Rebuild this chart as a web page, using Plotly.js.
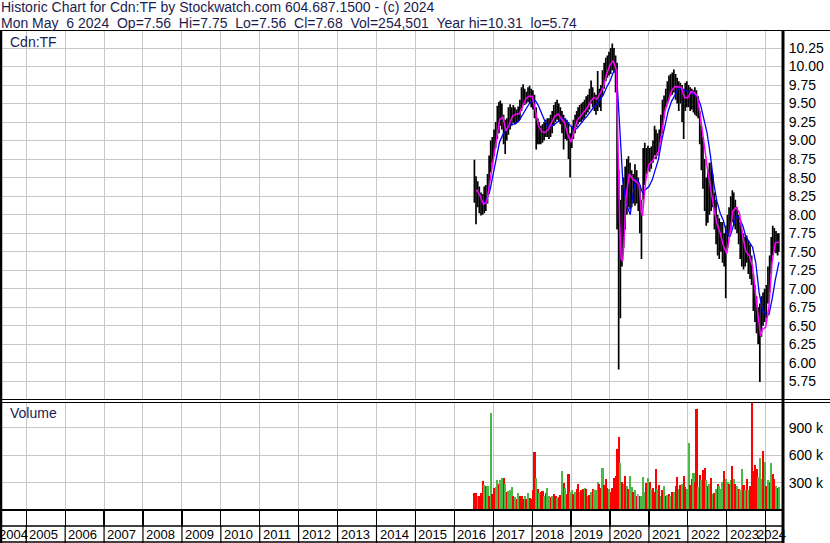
<!DOCTYPE html>
<html><head><meta charset="utf-8">
<script src="https://cdn.plot.ly/plotly-3.0.1.min.js"></script>
<style>html,body{margin:0;padding:0;background:#fff}#chart{width:830px;height:543px}</style>
</head><body><div id="chart"></div>
<script>
// ---------- header texts ----------
const headerLine1 = 'Historic Chart for Cdn:TF by Stockwatch.com 604.687.1500 - (c) 2024';
const headerLine2 = 'Mon May\u00a0\u00a06 2024\u00a0\u00a0Op=7.56\u00a0\u00a0Hi=7.75\u00a0\u00a0Lo=7.56\u00a0\u00a0Cl=7.68\u00a0\u00a0Vol=254,501\u00a0\u00a0Year hi=10.31\u00a0\u00a0lo=5.74';
const priceLabel = 'Cdn:TF';
const volumeLabel = 'Volume';

// ---------- tick labels ----------
const yearLabels = ['2004','2005','2006','2007','2008','2009','2010','2011','2012','2013','2014','2015','2016','2017','2018','2019','2020','2021','2022','2023','2024'];
const volTickVals = [300, 600, 900];
const volTickText = ['300 k', '600 k', '900 k'];

// ---------- half-month price bars ----------
const dates = [
"2016-07-08","2016-07-23","2016-08-08","2016-08-23","2016-09-08","2016-09-23","2016-10-08","2016-10-23","2016-11-08","2016-11-23","2016-12-08","2016-12-23",
"2017-01-08","2017-01-23","2017-02-08","2017-02-23","2017-03-08","2017-03-23","2017-04-08","2017-04-23","2017-05-08","2017-05-23","2017-06-08","2017-06-23","2017-07-08","2017-07-23","2017-08-08","2017-08-23","2017-09-08","2017-09-23","2017-10-08","2017-10-23","2017-11-08","2017-11-23","2017-12-08","2017-12-23",
"2018-01-08","2018-01-23","2018-02-08","2018-02-23","2018-03-08","2018-03-23","2018-04-08","2018-04-23","2018-05-08","2018-05-23","2018-06-08","2018-06-23","2018-07-08","2018-07-23","2018-08-08","2018-08-23","2018-09-08","2018-09-23","2018-10-08","2018-10-23","2018-11-08","2018-11-23","2018-12-08","2018-12-23",
"2019-01-08","2019-01-23","2019-02-08","2019-02-23","2019-03-08","2019-03-23","2019-04-08","2019-04-23","2019-05-08","2019-05-23","2019-06-08","2019-06-23","2019-07-08","2019-07-23","2019-08-08","2019-08-23","2019-09-08","2019-09-23","2019-10-08","2019-10-23","2019-11-08","2019-11-23","2019-12-08","2019-12-23",
"2020-01-08","2020-01-23","2020-02-08","2020-02-23","2020-03-08","2020-03-23","2020-04-08","2020-04-23","2020-05-08","2020-05-23","2020-06-08","2020-06-23","2020-07-08","2020-07-23","2020-08-08","2020-08-23","2020-09-08","2020-09-23","2020-10-08","2020-10-23","2020-11-08","2020-11-23","2020-12-08","2020-12-23",
"2021-01-08","2021-01-23","2021-02-08","2021-02-23","2021-03-08","2021-03-23","2021-04-08","2021-04-23","2021-05-08","2021-05-23","2021-06-08","2021-06-23","2021-07-08","2021-07-23","2021-08-08","2021-08-23","2021-09-08","2021-09-23","2021-10-08","2021-10-23","2021-11-08","2021-11-23","2021-12-08","2021-12-23",
"2022-01-08","2022-01-23","2022-02-08","2022-02-23","2022-03-08","2022-03-23","2022-04-08","2022-04-23","2022-05-08","2022-05-23","2022-06-08","2022-06-23","2022-07-08","2022-07-23","2022-08-08","2022-08-23","2022-09-08","2022-09-23","2022-10-08","2022-10-23","2022-11-08","2022-11-23","2022-12-08","2022-12-23",
"2023-01-08","2023-01-23","2023-02-08","2023-02-23","2023-03-08","2023-03-23","2023-04-08","2023-04-23","2023-05-08","2023-05-23","2023-06-08","2023-06-23","2023-07-08","2023-07-23","2023-08-08","2023-08-23","2023-09-08","2023-09-23","2023-10-08","2023-10-23","2023-11-08","2023-11-23","2023-12-08","2023-12-23",
"2024-01-08","2024-01-23","2024-02-08","2024-02-23","2024-03-08","2024-03-23","2024-04-08","2024-04-23","2024-05-04"
];
const high = [
8.74,8.52,8.45,8.38,8.30,8.28,8.38,8.40,8.55,8.80,9.00,9.05,
9.15,9.25,9.47,9.52,9.54,9.50,9.35,9.28,9.30,9.45,9.49,9.45,9.48,9.45,9.42,9.46,9.55,9.72,9.76,9.70,9.66,9.72,9.74,9.70,
9.68,9.62,9.45,9.30,9.25,9.20,9.22,9.25,9.28,9.30,9.30,9.35,9.40,9.48,9.52,9.55,9.50,9.45,9.40,9.35,9.30,9.28,9.25,9.10,
9.20,9.28,9.35,9.40,9.45,9.48,9.50,9.52,9.55,9.60,9.62,9.70,9.81,9.72,9.65,9.62,9.94,9.70,9.75,9.95,10.05,10.12,10.15,10.20,
10.25,10.31,10.25,10.15,10.05,8.60,8.20,8.40,8.50,8.65,8.75,8.79,8.70,8.60,8.55,8.68,8.60,8.50,8.40,8.20,8.90,8.97,8.90,8.93,
8.90,8.92,9.00,9.20,9.15,9.10,9.15,9.35,9.55,9.61,9.70,9.80,9.88,9.90,9.92,9.96,9.90,9.85,9.80,9.78,9.75,9.70,9.78,9.80,
9.75,9.72,9.70,9.68,9.72,9.68,9.60,9.40,9.20,9.05,8.75,8.50,8.61,8.70,8.70,8.55,8.30,8.20,8.00,7.95,7.90,7.90,7.75,7.85,
8.00,8.10,8.25,8.33,8.30,8.20,8.10,8.00,7.90,7.80,7.75,7.70,7.72,7.65,7.60,7.45,7.20,7.05,6.90,6.75,6.80,6.90,6.95,7.00,
7.05,7.30,7.45,7.70,7.85,7.82,7.78,7.75,7.75
];
const low = [
8.16,7.87,8.10,8.02,7.99,8.00,8.02,8.05,8.15,8.28,8.57,8.70,
8.79,8.90,9.02,9.10,9.20,9.15,8.95,8.82,9.00,9.08,9.15,9.20,9.24,9.22,9.24,9.25,9.28,9.40,9.48,9.48,9.50,9.52,9.50,9.45,
9.42,9.30,8.88,8.95,8.95,8.95,8.97,9.00,9.05,9.05,9.02,9.05,9.10,9.20,9.25,9.28,9.25,9.22,9.10,8.88,9.02,9.00,8.75,8.50,
8.90,9.02,9.10,9.18,9.22,9.25,9.25,9.28,9.30,9.35,9.38,9.42,9.50,9.45,9.40,9.35,9.40,9.45,9.40,9.60,9.70,9.80,9.85,9.88,
9.90,9.95,9.92,9.65,7.80,5.91,6.60,7.30,7.55,7.80,8.00,8.10,8.07,8.10,8.15,8.12,8.15,8.05,7.75,7.40,8.20,8.40,8.55,8.60,
8.58,8.62,8.70,8.80,8.75,8.80,8.85,9.00,9.10,9.30,9.45,9.50,9.55,9.60,9.62,9.65,9.55,9.50,9.40,9.50,9.25,9.02,9.40,9.45,
9.45,9.40,9.42,9.38,9.35,9.33,9.30,8.95,8.60,8.35,8.05,7.85,7.89,8.00,8.05,8.10,7.80,7.60,7.45,7.40,7.50,7.35,7.30,6.87,
7.55,7.70,7.80,7.90,7.85,7.80,7.75,7.60,7.40,7.30,7.26,7.30,7.35,7.20,7.13,7.05,6.70,6.55,6.40,6.25,5.74,6.35,6.50,6.55,
6.60,6.80,6.95,7.20,7.45,7.50,7.48,7.45,7.50
];
const close = [
8.40,8.30,8.22,8.12,8.08,8.15,8.12,8.20,8.45,8.70,8.85,8.90,
9.00,9.10,9.30,9.35,9.40,9.30,9.10,9.05,9.15,9.30,9.35,9.30,9.35,9.33,9.35,9.38,9.45,9.60,9.62,9.58,9.60,9.62,9.60,9.55,
9.55,9.45,9.15,9.10,9.10,9.08,9.10,9.12,9.15,9.18,9.15,9.20,9.25,9.35,9.40,9.42,9.38,9.33,9.25,9.15,9.15,9.12,9.00,8.95,
9.05,9.15,9.22,9.28,9.33,9.35,9.38,9.40,9.42,9.48,9.50,9.55,9.62,9.58,9.52,9.50,9.60,9.58,9.60,9.75,9.85,9.95,10.00,10.05,
10.08,10.12,10.08,9.95,8.90,7.00,7.50,7.70,7.90,8.20,8.40,8.45,8.40,8.35,8.35,8.40,8.38,8.30,8.10,7.90,8.55,8.70,8.72,8.75,
8.72,8.75,8.85,8.95,8.92,8.95,9.00,9.20,9.35,9.45,9.58,9.65,9.70,9.75,9.78,9.80,9.72,9.68,9.60,9.65,9.55,9.40,9.60,9.62,
9.60,9.58,9.55,9.52,9.55,9.50,9.45,9.15,8.90,8.70,8.40,8.15,8.30,8.35,8.40,8.30,8.05,7.90,7.75,7.70,7.70,7.65,7.55,7.50,
7.75,7.90,8.00,8.10,8.05,8.00,7.95,7.80,7.65,7.55,7.50,7.48,7.52,7.40,7.35,7.25,6.95,6.80,6.65,6.50,6.45,6.60,6.75,6.80,
6.85,7.05,7.20,7.45,7.65,7.68,7.62,7.60,7.68
];

// ---------- moving averages (magenta short, blue long) ----------
const maShortDates = ["2016-07-25","2016-08-01","2016-09-01","2016-10-01","2016-11-01","2016-12-01",
"2017-01-01","2017-02-01","2017-03-01","2017-04-01","2017-05-01","2017-06-01","2017-07-01","2017-08-01","2017-09-01","2017-10-01","2017-11-01","2017-12-01",
"2018-01-01","2018-02-01","2018-03-01","2018-04-01","2018-05-01","2018-06-01","2018-07-01","2018-08-01","2018-09-01","2018-10-01","2018-11-01","2018-12-01",
"2019-01-01","2019-02-01","2019-03-01","2019-04-01","2019-05-01","2019-06-01","2019-07-01","2019-08-01","2019-09-01","2019-10-01","2019-11-01","2019-12-01",
"2020-01-01","2020-02-01","2020-03-01","2020-03-16","2020-04-01","2020-04-16","2020-05-01","2020-05-16","2020-06-01","2020-07-01","2020-08-01","2020-09-01","2020-10-01","2020-10-20","2020-11-01","2020-12-01",
"2021-01-01","2021-02-01","2021-03-01","2021-04-01","2021-05-01","2021-06-01","2021-07-01","2021-08-01","2021-09-01","2021-10-01","2021-11-01","2021-12-01",
"2022-01-01","2022-02-01","2022-03-01","2022-04-01","2022-05-01","2022-06-01","2022-07-01","2022-08-01","2022-09-01","2022-10-01","2022-11-01","2022-12-01",
"2023-01-01","2023-02-01","2023-03-01","2023-04-01","2023-05-01","2023-06-01","2023-07-01","2023-08-01","2023-09-01","2023-10-01","2023-11-01","2023-11-15","2023-12-01",
"2024-01-01","2024-02-01","2024-03-01","2024-04-01","2024-05-06"];
const maShortValues = [8.32,8.33,8.25,8.14,8.17,8.45,
8.72,9.00,9.28,9.32,9.13,9.22,9.33,9.36,9.36,9.45,9.56,9.60,
9.60,9.40,9.20,9.12,9.11,9.15,9.25,9.33,9.36,9.30,9.24,9.08,
8.98,9.14,9.28,9.33,9.38,9.44,9.52,9.58,9.56,9.64,9.72,9.90,
10.02,10.08,9.95,9.00,7.90,7.40,7.38,7.75,8.25,8.55,8.48,8.45,8.40,8.05,7.98,8.45,
8.68,8.72,8.78,8.85,9.10,9.40,9.53,9.67,9.73,9.73,9.72,9.58,
9.58,9.66,9.65,9.60,9.32,8.98,8.65,8.35,8.10,7.88,7.75,7.58,
7.47,7.75,8.05,8.10,8.02,7.70,7.50,7.45,7.30,6.90,6.50,6.36,6.45,
6.48,6.75,7.35,7.62,7.63];
const maLongDates = ["2016-10-01","2016-11-01","2016-12-01",
"2017-01-01","2017-02-01","2017-03-01","2017-04-01","2017-05-01","2017-06-01","2017-07-01","2017-08-01","2017-09-01","2017-10-01","2017-11-01","2017-12-01",
"2018-01-01","2018-02-01","2018-03-01","2018-04-01","2018-05-01","2018-06-01","2018-07-01","2018-08-01","2018-09-01","2018-10-01","2018-11-01","2018-12-01",
"2019-01-01","2019-02-01","2019-03-01","2019-04-01","2019-05-01","2019-06-01","2019-07-01","2019-08-01","2019-09-01","2019-10-01","2019-11-01","2019-12-01",
"2020-01-01","2020-02-01","2020-03-01","2020-03-16","2020-04-01","2020-04-16","2020-05-01","2020-06-01","2020-07-01","2020-07-10","2020-08-01","2020-09-01","2020-10-01","2020-11-01","2020-12-01",
"2021-01-01","2021-02-01","2021-03-01","2021-04-01","2021-05-01","2021-06-01","2021-07-01","2021-08-01","2021-09-01","2021-10-01","2021-11-01","2021-12-01",
"2022-01-01","2022-02-01","2022-03-01","2022-04-01","2022-05-01","2022-06-01","2022-07-01","2022-08-01","2022-09-01","2022-10-01","2022-11-01","2022-12-01",
"2023-01-01","2023-02-01","2023-03-01","2023-04-01","2023-05-01","2023-06-01","2023-07-01","2023-08-01","2023-09-01","2023-10-01","2023-11-01","2023-12-01",
"2024-01-01","2024-02-01","2024-03-01","2024-04-01","2024-05-06"];
const maLongValues = [8.14,8.22,8.33,
8.55,8.80,8.98,9.08,9.15,9.21,9.22,9.23,9.27,9.34,9.42,9.49,
9.54,9.54,9.47,9.36,9.26,9.18,9.19,9.22,9.26,9.29,9.29,9.24,
9.18,9.14,9.17,9.23,9.28,9.33,9.39,9.45,9.49,9.55,9.62,9.72,
9.80,9.92,9.94,9.60,9.18,8.78,8.45,8.15,8.05,8.00,8.25,8.48,8.43,8.30,8.34,
8.38,8.47,8.60,8.75,9.00,9.20,9.40,9.53,9.62,9.69,9.70,9.68,
9.66,9.65,9.62,9.59,9.48,9.30,9.10,8.80,8.43,8.18,8.02,7.92,
7.75,7.70,7.85,7.98,7.95,7.85,7.70,7.62,7.56,7.35,6.95,6.72,
6.66,6.65,6.85,7.12,7.36];

// ---------- volume (thousands) and direction per bar: r = down, g = up, n = unchanged ----------
const volumeK = [
185,185,159,150,189,318,278,263,263,159,1066,178,
241,252,333,289,326,352,352,289,196,204,215,252,152,141,122,185,152,152,122,159,122,185,130,122,
222,633,355,233,185,196,204,159,185,241,159,148,159,178,159,137,141,160,433,296,241,178,400,196,
215,178,196,226,289,196,215,233,241,226,159,170,196,226,222,215,307,289,241,466,278,344,241,233,
196,241,352,374,666,799,511,307,289,374,259,233,374,252,196,215,159,178,159,159,363,196,296,352,
307,233,241,196,455,233,270,159,215,263,159,167,178,159,196,196,263,363,233,270,289,374,252,233,
733,270,344,411,307,1103,252,389,326,437,466,326,263,289,355,178,185,233,289,263,233,307,426,344,
307,289,326,485,344,289,263,233,215,448,270,215,344,215,263,1177,426,492,455,363,566,344,651,529,
263,326,307,511,400,344,263,241,252
];
const volumeDir = [
"rrgrrrgrgrgr",
"rggrggrgrgggrgrgrrrgrgrr",
"rrgrgrrgrggrgrrgrrgrgrrg",
"grgrrgrrgrgrgrgggrrgrrrg",
"rrrrrrgrgrgrggrgrnrgggrg",
"rgrrrgrgrgrgrgrgrrgrgrrg",
"grrgrrgrgrrgrgrgrgrgggrg",
"grgrgrgrggrgrgrrrrrgggrg",
"rgrgrrgrg"
].join('');

// ---------- geometry helpers (pixels -> paper) ----------
const L = 2, R = 782, T = 31, B = 510;
const px = x => (x - L) / (R - L);
const py = y => (B - y) / (B - T);
const xStart = Date.UTC(2004, 4, 18), xEnd = Date.UTC(2024, 5, 3);
const msPerPx = (xEnd - xStart) / (R - L);
const yearMs = 365.25 * 86400000;
const toPaperX = ms => (ms - xStart) / (xEnd - xStart);
const labelPaper = yearLabels.map(s => {
  const c = Date.UTC(+s, 0, 1) + 0.45 * yearMs;
  return toPaperX(Math.min(Math.max(c, xStart + 12 * msPerPx), xEnd - 10.5 * msPerPx));
});
const yearStarts = yearLabels.map(s => s + '-01-01');
const yearStartPaper = yearLabels.map(s => toPaperX(Date.UTC(+s, 0, 1))).filter(v => v > 0 && v < 1);

const GRID = '#c8c8c8';
const FONT = 'Arial, "Liberation Sans", sans-serif';
const TXT = '#1c1c50';
const dirColor = { r: '#ff0000', g: '#4cb848', n: '#a8a8a8' };

const traces = [
  {
    type: 'bar', x: dates, y: volumeK, xaxis: 'x', yaxis: 'y2',
    width: 20 * 86400000,
    marker: { color: volumeDir.split('').map(c => dirColor[c]), line: { width: 0 } },
    hoverinfo: 'skip'
  },
  {
    type: 'ohlc', x: dates, open: close, high: high, low: low, close: close,
    xaxis: 'x2', yaxis: 'y', tickwidth: 0.05,
    increasing: { line: { color: '#000000', width: 1.7 } },
    decreasing: { line: { color: '#000000', width: 1.7 } },
    hoverinfo: 'skip'
  },
  {
    type: 'scatter', mode: 'lines', x: maLongDates, y: maLongValues,
    xaxis: 'x2', yaxis: 'y', line: { color: '#0000ff', width: 1.3 }, hoverinfo: 'skip'
  },
  {
    type: 'scatter', mode: 'lines', x: maShortDates, y: maShortValues,
    xaxis: 'x2', yaxis: 'y', line: { color: '#ff00ff', width: 1.5 }, hoverinfo: 'skip'
  }
];

const minorGrid = (withTicks) => ({
  tickmode: 'array', tickvals: yearStarts,
  showgrid: true, gridcolor: GRID, gridwidth: 1,
  ticks: withTicks ? 'outside' : '', ticklen: 16, tickcolor: '#000000', tickwidth: 1.2
});

const blackLine = (x0, y0, x1, y1, w) => ({
  type: 'line', xref: 'paper', yref: 'paper', layer: 'above',
  x0: px(x0), y0: py(y0), x1: px(x1), y1: py(y1),
  line: { color: '#000000', width: w }
});

// separators between year labels in the bottom label row
const labelSeparators = yearStartPaper.map(v => ({
  type: 'line', xref: 'paper', yref: 'paper', layer: 'above',
  x0: v, x1: v, y0: py(526), y1: py(543),
  line: { color: '#000000', width: 1.2 }
}));

// year labels in the bottom row
const yearAnnotations = yearLabels.map((s, i) => ({
  xref: 'paper', yref: 'paper', x: labelPaper[i], y: py(534.5),
  xanchor: 'center', yanchor: 'middle', borderpad: 0, showarrow: false,
  text: s, font: { family: FONT, size: 13, color: '#000000' }
}));

const layout = {
  width: 830, height: 543,
  margin: { l: L, r: 830 - R, t: T, b: 543 - B, pad: 0 },
  paper_bgcolor: '#ffffff', plot_bgcolor: '#ffffff',
  showlegend: false, bargap: 0,
  font: { family: FONT, size: 13, color: '#000000' },
  xaxis: {
    type: 'date', range: [xStart, xEnd], anchor: 'y2', domain: [0, 1],
    showticklabels: false, ticks: '',
    showgrid: false, zeroline: false, showline: false,
    tickmode: 'array', tickvals: [],
    minor: minorGrid(true),
    rangeslider: { visible: false }, fixedrange: true
  },
  xaxis2: {
    type: 'date', range: [xStart, xEnd], matches: 'x', anchor: 'y', domain: [0, 1],
    showticklabels: false, ticks: '', showgrid: false, zeroline: false, showline: false,
    tickmode: 'array', tickvals: [],
    minor: minorGrid(false),
    rangeslider: { visible: false }, fixedrange: true
  },
  yaxis: {
    domain: [py(399), 1], anchor: 'x2', side: 'right',
    range: [5.5112, 10.4795], tick0: 0, dtick: 0.25, tickformat: '.2f',
    ticks: 'outside', ticklen: 3, tickcolor: 'rgba(0,0,0,0)',
    tickfont: { family: FONT, size: 14, color: '#000000' },
    showgrid: true, gridcolor: GRID, gridwidth: 1, zeroline: false, showline: false, fixedrange: true
  },
  yaxis2: {
    domain: [0, py(402)], anchor: 'x', side: 'right',
    range: [0, 1185], tickmode: 'array', tickvals: volTickVals, ticktext: volTickText,
    ticks: 'outside', ticklen: 3, tickcolor: 'rgba(0,0,0,0)',
    tickfont: { family: FONT, size: 14, color: '#000000' },
    showgrid: true, gridcolor: GRID, gridwidth: 1, zeroline: false, showline: false, fixedrange: true
  },
  shapes: [
    blackLine(0, 30.5, 830, 30.5, 1),
    blackLine(1, 30.5, 1, 543, 2.5),
    blackLine(783, 30.5, 783, 543, 3),
    blackLine(0, 399.5, 830, 399.5, 1.2),
    blackLine(0, 402.5, 830, 402.5, 1.2),
    blackLine(0, 510, 783, 510, 2),
    blackLine(0, 526, 783, 526, 1.5),
    blackLine(0, 542, 783, 542, 1.5)
  ].concat(labelSeparators),
  annotations: [
    { xref: 'paper', yref: 'paper', x: px(0), y: py(7.5), xanchor: 'left', yanchor: 'middle', borderpad: 0,
      text: headerLine1, showarrow: false, font: { family: FONT, size: 14, color: TXT } },
    { xref: 'paper', yref: 'paper', x: px(0), y: py(23.3), xanchor: 'left', yanchor: 'middle', borderpad: 0,
      text: headerLine2, showarrow: false, font: { family: FONT, size: 14, color: TXT } },
    { xref: 'paper', yref: 'paper', x: px(8), y: py(42), xanchor: 'left', yanchor: 'middle',
      text: priceLabel, showarrow: false, font: { family: FONT, size: 14, color: TXT } },
    { xref: 'paper', yref: 'paper', x: px(8), y: py(413), xanchor: 'left', yanchor: 'middle',
      text: volumeLabel, showarrow: false, font: { family: FONT, size: 14, color: TXT } }
  ].concat(yearAnnotations)
};

Plotly.newPlot('chart', traces, layout, { displayModeBar: false, staticPlot: true });
</script>
</body></html>
